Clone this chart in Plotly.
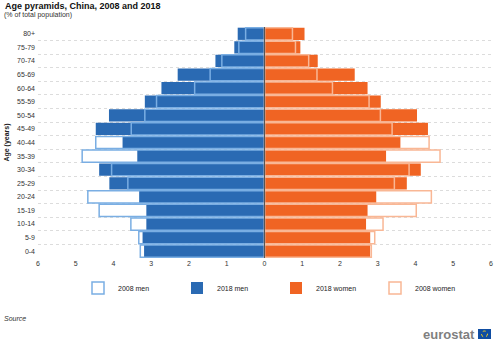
import plotly.graph_objects as go

ages = ["0-4", "5-9", "10-14", "15-19", "20-24", "25-29", "30-34", "35-39",
        "40-44", "45-49", "50-54", "55-59", "60-64", "65-69", "70-74", "75-79", "80+"]
men_2018 = [3.19, 3.23, 3.13, 3.13, 3.32, 4.11, 4.38, 3.37, 3.76, 4.47, 4.12, 3.17, 2.73, 2.30, 1.30, 0.80, 0.71]
men_2008 = [3.29, 3.33, 3.54, 4.38, 4.68, 3.62, 4.05, 4.83, 4.47, 3.53, 3.17, 2.86, 1.85, 1.44, 1.13, 0.68, 0.50]
women_2018 = [2.80, 2.80, 2.69, 2.73, 2.96, 3.77, 4.14, 3.22, 3.60, 4.33, 4.04, 3.08, 2.73, 2.39, 1.41, 0.95, 1.06]
women_2008 = [2.83, 2.92, 3.14, 4.02, 4.42, 3.44, 3.83, 4.65, 4.36, 3.38, 3.07, 2.77, 1.80, 1.39, 1.17, 0.82, 0.74]
x_ticks = [-6, -5, -4, -3, -2, -1, 0, 1, 2, 3, 4, 5, 6]

BLUE = "#2a6ab3"
LBLUE = "#7aaee3"
ORANGE = "#f06423"
LORANGE = "#f9b795"
FONT = "Liberation Sans, Arial, sans-serif"

fig = go.Figure()
fig.add_trace(go.Bar(y=ages, x=[-v for v in men_2018], orientation="h", name="2018 men",
                     marker=dict(color=BLUE, line=dict(width=0)), legendrank=2,
                     customdata=men_2018, hovertemplate="%{y}: %{customdata}%<extra>2018 men</extra>"))
fig.add_trace(go.Bar(y=ages, x=women_2018, orientation="h", name="2018 women",
                     marker=dict(color=ORANGE, line=dict(width=0)), legendrank=3))
fig.add_trace(go.Bar(y=ages, x=[-v for v in men_2008], orientation="h", name="2008 men",
                     marker=dict(color="rgba(255,255,255,0)", line=dict(color=LBLUE, width=1.5)),
                     legendrank=1, customdata=men_2008,
                     hovertemplate="%{y}: %{customdata}%<extra>2008 men</extra>"))
fig.add_trace(go.Bar(y=ages, x=women_2008, orientation="h", name="2008 women",
                     marker=dict(color="rgba(255,255,255,0)", line=dict(color=LORANGE, width=1.5)),
                     legendrank=4))

W, H = 500, 349
L, R, T, B = 38, 9, 27, 91
pw, ph = W - L - R, H - T - B

def px(x):
    return (x - L) / pw

def py(y):
    return (H - B - y) / ph

fig.update_layout(
    width=W, height=H,
    margin=dict(l=L, r=R, t=T, b=B, autoexpand=False),
    barmode="overlay", bargap=0.1,
    plot_bgcolor="white", paper_bgcolor="white",
    font=dict(family=FONT, size=7, color="#333333"),
    showlegend=True,
    legend=dict(orientation="h", xref="container", x=78 / W, xanchor="left",
                yref="container", y=1 - 288 / H, yanchor="middle",
                entrywidth=54, entrywidthmode="pixels", font=dict(size=7, color="#222"),
                itemclick=False, traceorder="normal"),
    xaxis=dict(range=[-6, 6], tickvals=x_ticks, ticktext=[str(abs(v)) for v in x_ticks],
               showgrid=False, zeroline=False, showline=False, ticks="",
               tickfont=dict(size=7, color="#333")),
    yaxis=dict(categoryorder="array", categoryarray=ages, tickson="boundaries",
               showgrid=True, gridcolor="#dcdcdc", griddash="dot", gridwidth=1,
               zeroline=False, showline=False, ticks="", ticklabelstandoff=2,
               tickfont=dict(size=7, color="#333"),
               title=dict(text="<b>Age (years)</b>", font=dict(size=7, color="#222"), standoff=6)),
    title=dict(text="<b>Age pyramids, China, 2008 and 2018</b>", x=5 / W, xanchor="left",
               xref="container", y=1 - 6 / H, yanchor="middle", yref="container",
               font=dict(size=9, color="#111", family=FONT)),
)

fig.add_shape(type="line", x0=0, x1=0, y0=0, y1=1, yref="paper", xref="x",
              line=dict(color="#555555", width=1), layer="above")

fig.add_annotation(text="(% of total population)", xref="paper", yref="paper", x=px(2), y=py(15),
                   xanchor="left", yanchor="middle", showarrow=False,
                   font=dict(size=7, color="#333"))
fig.add_annotation(text="<i>Source</i>", xref="paper", yref="paper", x=px(2), y=py(318),
                   xanchor="left", yanchor="middle", showarrow=False,
                   font=dict(size=7, color="#333"))
fig.add_annotation(text="<b>eurostat</b>", xref="paper", yref="paper", x=px(477), y=py(334),
                   xanchor="right", yanchor="middle", showarrow=False,
                   font=dict(size=13, color="#7f7f7f"))
fig.add_shape(type="rect", xref="paper", yref="paper", x0=px(478), x1=px(491), y0=py(339), y1=py(329),
              fillcolor="#0f4da2", line=dict(width=0))
fig.add_shape(type="circle", xref="paper", yref="paper", x0=px(481.5), x1=px(487.5), y0=py(337), y1=py(331),
              line=dict(color="#ffd617", width=1, dash="dot"))

fig.write_html("out.html")
